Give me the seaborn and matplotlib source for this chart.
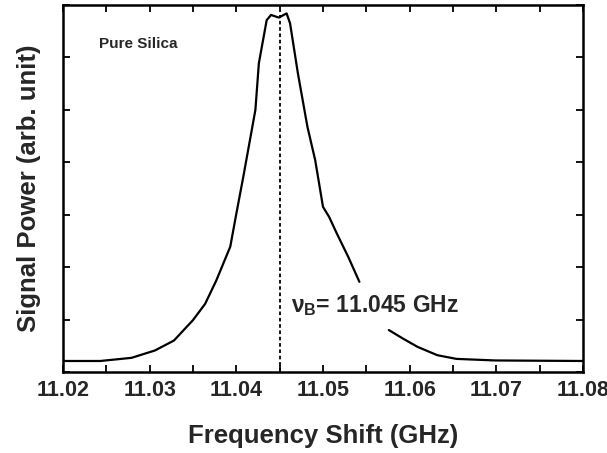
import numpy as np
import pandas as pd
import matplotlib
matplotlib.use("Agg")
import matplotlib.pyplot as plt
import seaborn as sns
from matplotlib.ticker import MultipleLocator, NullFormatter

# Data
freq_left = [11.020, 11.0243, 11.0279, 11.0306, 11.0328, 11.0350, 11.0364, 11.0377,
             11.0393, 11.0400, 11.0408, 11.0415, 11.0422, 11.0426, 11.0435, 11.0440,
             11.0449, 11.0458, 11.0462, 11.0471, 11.0482, 11.0491, 11.0500, 11.0507,
             11.0516, 11.0529, 11.0542]
power_left = [0.21, 0.21, 0.27, 0.41, 0.60, 0.99, 1.30, 1.75,
              2.39, 3.02, 3.72, 4.36, 5.00, 5.89, 6.71, 6.81,
              6.76, 6.84, 6.65, 5.70, 4.68, 4.04, 3.15, 2.96,
              2.64, 2.20, 1.72]
freq_right = [11.0576, 11.0592, 11.0609, 11.0632, 11.0654, 11.0699, 11.080]
power_right = [0.80, 0.64, 0.48, 0.32, 0.25, 0.22, 0.21]

peak_freq = 11.045
peak_power = 6.80
xticks = [11.02, 11.03, 11.04, 11.05, 11.06, 11.07, 11.08]
xtick_labels = ["11.02", "11.03", "11.04", "11.05", "11.06", "11.07", "11.08"]

sns.set_theme(style="ticks")
plt.rcParams['font.family'] = ['Liberation Sans', 'DejaVu Sans']
plt.rcParams['mathtext.fontset'] = 'custom'
plt.rcParams['mathtext.rm'] = 'Liberation Sans:bold'
plt.rcParams['mathtext.it'] = 'Liberation Sans:bold'

fig = plt.figure(figsize=(6.07, 4.53), dpi=100)
ax = fig.add_axes([63/607, 81/453, 520/607, 367/453])

df_l = pd.DataFrame({"f": freq_left, "p": power_left})
df_r = pd.DataFrame({"f": freq_right, "p": power_right})
sns.lineplot(data=df_l, x="f", y="p", ax=ax, color="black", linewidth=1.6, sort=False)
sns.lineplot(data=df_r, x="f", y="p", ax=ax, color="black", linewidth=1.6, sort=False)

ax.plot([peak_freq, peak_freq], [0, peak_power], color="black", linewidth=1.3,
        linestyle=(0, (2, 1.5)))

ax.set_xlim(11.02, 11.08)
ax.set_ylim(0, 7)
ax.set_xticks(xticks)
ax.set_xticklabels(xtick_labels)
ax.xaxis.set_minor_locator(MultipleLocator(0.005))
ax.yaxis.set_major_locator(MultipleLocator(1))
ax.yaxis.set_major_formatter(NullFormatter())

ax.tick_params(axis="both", which="both", direction="in", top=True, right=True,
               length=5, width=1.3, color="black")
ax.tick_params(axis="x", which="major", labelsize=15.5, pad=6)
for lab in ax.get_xticklabels():
    lab.set_fontweight("bold")

for s in ax.spines.values():
    s.set_linewidth(1.8)
    s.set_color("black")

ax.set_xlabel("Frequency Shift (GHz)", fontsize=18.5, fontweight="bold", labelpad=16)
ax.set_ylabel("Signal Power (arb. unit)", fontsize=18.5, fontweight="bold", labelpad=12)

ax.text(11.0242, 6.25, "Pure Silica", fontsize=11, fontweight="bold", va="center", ha="left")
ax.text(11.0463, 1.26, r"$\nu_B$= 11.045 GHz", fontsize=16.5, fontweight="bold",
        va="center", ha="left")

fig.savefig("out.png", dpi=100)
